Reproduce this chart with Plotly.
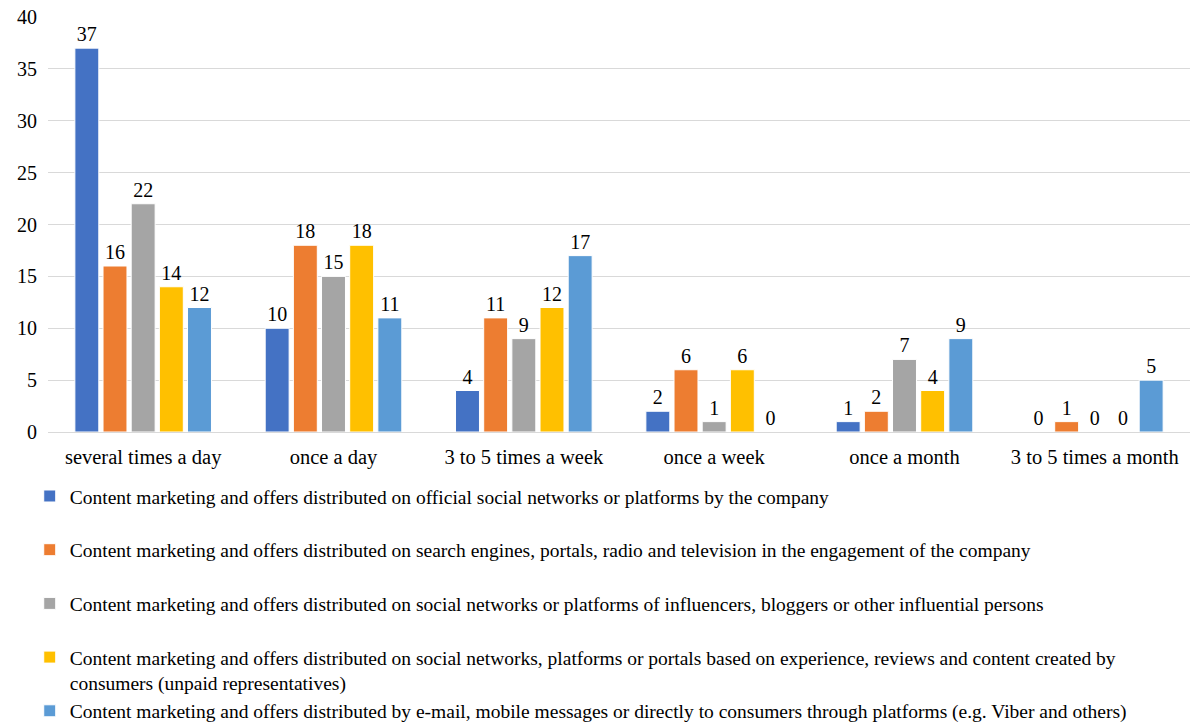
import plotly.graph_objects as go

categories = ["several times a day", "once a day", "3 to 5 times a week",
              "once a week", "once a month", "3 to 5 times a month"]

series_names = [
    "Content marketing and offers distributed on official social networks or platforms by the company",
    "Content marketing and offers distributed on search engines, portals, radio and television in the engagement of the company",
    "Content marketing and offers distributed on social networks or platforms of influencers, bloggers or other influential persons",
    "Content marketing and offers distributed on social networks, platforms or portals based on experience, reviews and content created by<br>consumers (unpaid representatives)",
    "Content marketing and offers distributed by e-mail, mobile messages or directly to consumers through platforms (e.g. Viber and others)",
]

official_company = [37, 10, 4, 2, 1, 0]
search_portals_tv = [16, 18, 11, 6, 2, 1]
influencers = [22, 15, 9, 1, 7, 0]
consumer_content = [14, 18, 12, 6, 4, 0]
email_direct = [12, 11, 17, 0, 9, 5]

series_values = [official_company, search_portals_tv, influencers, consumer_content, email_direct]
colors = ["#4472C4", "#ED7D31", "#A5A5A5", "#FFC000", "#5B9BD5"]

FONT = "Liberation Serif, Times New Roman, serif"

fig = go.Figure()
for i, (name, vals, col) in enumerate(zip(series_names, series_values, colors)):
    # pad single-line legend entries to two lines so the spacing is even
    legend_name = name if "<br>" in name or i == len(series_names) - 1 else name + "<br> "
    fig.add_trace(go.Bar(
        x=categories, y=vals, name=legend_name,
        marker=dict(color=col, line=dict(color="white", width=1)),
        text=vals, textposition="outside", cliponaxis=False,
        textfont=dict(family=FONT, size=20, color="#000000"),
    ))

fig.update_layout(
    width=1195, height=724,
    margin=dict(l=48, r=5, t=17, b=292, autoexpand=False),
    barmode="group", bargap=0.26, bargroupgap=0.15,
    plot_bgcolor="white", paper_bgcolor="white",
    font=dict(family=FONT, size=20, color="#000000"),
    legend=dict(
        orientation="v", x=-0.016, xanchor="left", y=-0.108, yanchor="top",
        traceorder="normal", valign="top",
        font=dict(family=FONT, size=19.5, color="#000000"),
        itemwidth=30,
    ),
    showlegend=True,
)
fig.update_yaxes(range=[0, 40], dtick=5, showgrid=True, gridcolor="#D9D9D9",
                 zeroline=False, showline=False, ticklabelstandoff=10,
                 tickfont=dict(family=FONT, size=20))
fig.update_xaxes(showline=True, linecolor="#D9D9D9", linewidth=1,
                 ticklabelstandoff=6,
                 tickfont=dict(family=FONT, size=20.5))

fig.write_html("out.html", config={"displayModeBar": False},
               post_script="document.body.style.margin='0';")
